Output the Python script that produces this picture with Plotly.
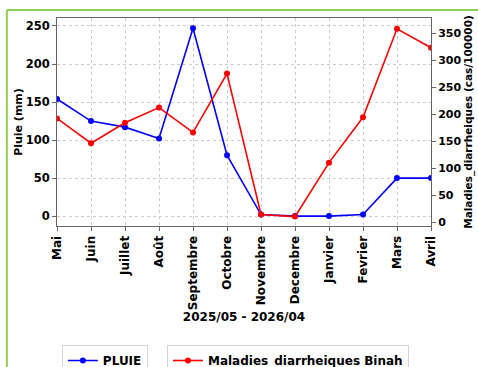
import plotly.graph_objects as go

mois = ["Mai", "Juin", "Juillet", "Août", "Septembre", "Octobre", "Novembre",
        "Decembre", "Janvier", "Fevrier", "Mars", "Avril"]
pluie = [154, 125, 117, 102, 247, 80, 2, 0, 0, 2, 50, 50]
maladies = [192, 146, 184, 212, 166, 275, 14, 10, 110, 194, 358, 323]

left_ticks = [0, 50, 100, 150, 200, 250]
right_ticks = [0, 50, 100, 150, 200, 250, 300, 350]

FONT = "DejaVu Sans"
W, H = 478, 367

fig = go.Figure()
fig.add_trace(go.Scatter(
    x=mois, y=pluie, name="PLUIE", mode="lines+markers",
    line=dict(color="#0000ff", width=1.6), marker=dict(size=6, color="#0000ff"),
    legend="legend"))
fig.add_trace(go.Scatter(
    x=mois, y=maladies, name="Maladies_diarrheiques Binah", mode="lines+markers",
    line=dict(color="#ff0000", width=1.6), marker=dict(size=6, color="#ff0000"),
    yaxis="y2", legend="legend2"))

axis_common = dict(showline=True, linecolor="#666666", linewidth=1, ticks="outside",
                   ticklen=4, tickcolor="#666666", zeroline=False, automargin=False)

legend_common = dict(yref="container", y=(H - 345) / H, xanchor="left", yanchor="top",
                     bordercolor="#d6d6d6", borderwidth=1, bgcolor="white",
                     font=dict(family=FONT, size=12, weight="bold"), itemwidth=30)

fig.update_layout(
    width=W, height=H,
    margin=dict(l=57, r=47, t=18, b=141),
    paper_bgcolor="white", plot_bgcolor="white",
    font=dict(family=FONT, color="black"),
    xaxis=dict(**axis_common, range=[0, len(mois) - 1], tickangle=-90,
               mirror=True, showgrid=True, gridcolor="#cccccc", griddash="dot",
               gridwidth=1,
               tickfont=dict(family=FONT, size=12, color="black", weight="bold"),
               title=dict(text="2025/05 - 2026/04", standoff=1,
                          font=dict(family=FONT, size=12, weight="bold"))),
    yaxis=dict(**axis_common, range=[-13, 260.5], tickvals=left_ticks, mirror=True,
               showgrid=True, gridcolor="#cccccc", griddash="dot", gridwidth=1,
               tickfont=dict(family=FONT, size=11.5, color="black", weight="bold"),
               title=dict(text="Pluie (mm)", standoff=0,
                          font=dict(family=FONT, size=11, weight="bold"))),
    yaxis2=dict(**axis_common, range=[-7.4, 378], tickvals=right_ticks,
                overlaying="y", side="right", showgrid=False,
                tickfont=dict(family=FONT, size=11, color="black", weight="bold"),
                title=dict(text="Maladies_diarrheiques (cas/100000)", standoff=4,
                           font=dict(family=FONT, size=10.5, weight="bold"))),
    legend=dict(**legend_common, x=0.013),
    legend2=dict(**legend_common, x=0.294),
    showlegend=True,
)

# green page frame (left and top edges)
fig.add_shape(type="line", xref="paper", yref="paper", x0=-0.134, x1=1.2,
              y0=1.0385, y1=1.0385, line=dict(color="#8FD14F", width=2))
fig.add_shape(type="line", xref="paper", yref="paper", x0=-0.134, x1=-0.134,
              y0=1.0385, y1=-0.8, line=dict(color="#8FD14F", width=2))

fig.write_html("out.html")
